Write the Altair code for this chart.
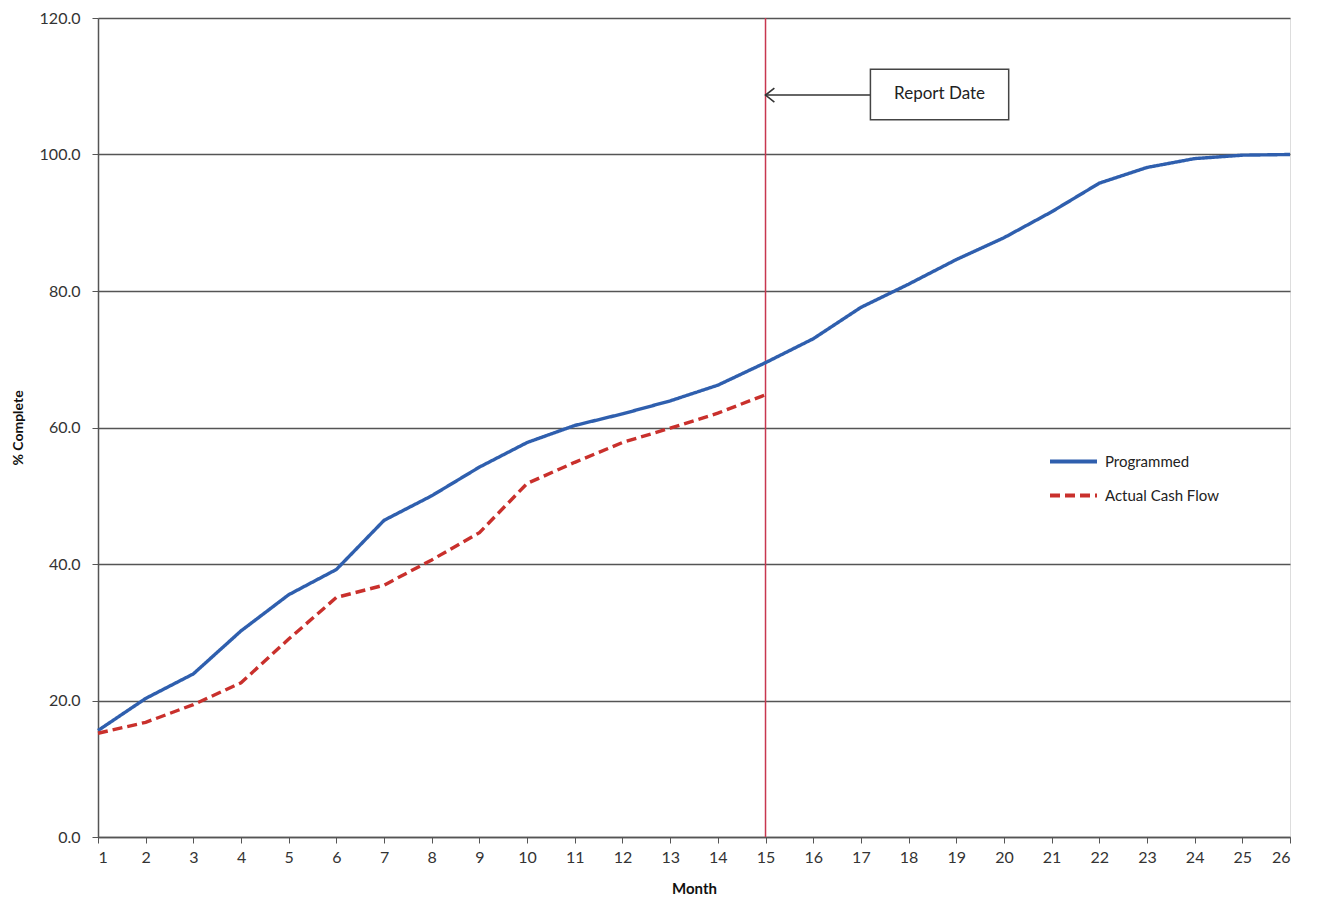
import altair as alt
import pandas as pd

# ---- data ----
months = list(range(1, 27))
programmed = [15.6, 20.3, 23.9, 30.2, 35.5, 39.2, 46.4, 50.0, 54.2, 57.8,
              60.3, 62.0, 63.9, 66.2, 69.5, 73.0, 77.6, 81.0, 84.6, 87.8,
              91.6, 95.8, 98.1, 99.4, 99.9, 100.0]
actual = [15.2, 16.8, 19.4, 22.6, 29.0, 35.1, 36.9, 40.6, 44.6, 51.8,
          54.9, 57.8, 59.9, 62.1, 64.8]
series_names = ["Programmed", "Actual Cash Flow"]
series_colors = ["#2f5fae", "#c9302c"]

report_month = [15]
box_x = [17.2]
box_x2 = [20.1]
box_y = [105.1]
box_y2 = [112.5]
arrow_y = [108.7]
box_label = ["Report Date"]

rows = []
for m, v in zip(months, programmed):
    rows.append({"Month": m, "Value": v, "Series": "Programmed"})
for m, v in zip(months[:len(actual)], actual):
    rows.append({"Month": m, "Value": v, "Series": "Actual Cash Flow"})
df = pd.DataFrame(rows)

ann = pd.DataFrame({
    "rx": report_month, "bx": box_x, "bx2": box_x2,
    "by": box_y, "by2": box_y2, "ay": arrow_y,
    "cx": [(a + b) / 2 for a, b in zip(box_x, box_x2)],
    "cy": [(a + b) / 2 for a, b in zip(box_y, box_y2)],
    "label": box_label,
})

W, H = 1192, 819
FONT = "Lato"

xscale = alt.Scale(domain=[1, 26], nice=False, zero=False)
yscale = alt.Scale(domain=[0, 120], nice=False)

x_axis = alt.Axis(values=months, format="d", title="Month", grid=False,
                  labelFontSize=16, labelColor="#333", labelPadding=6,
                  tickSize=6, tickColor="#555", domainColor="#555", domainWidth=1.5,
                  titleFontSize=15, titleFontWeight="bold", titleColor="#111",
                  titlePadding=16)
y_axis = alt.Axis(values=[0, 20, 40, 60, 80, 100, 120], format=".1f",
                  title="% Complete", grid=True, gridColor="#555", gridWidth=1.3,
                  labelFontSize=16, labelColor="#333", labelPadding=12,
                  tickSize=6, tickColor="#555", domainColor="#555", domainWidth=1.5,
                  titleFontSize=14, titleFontWeight="bold", titleColor="#111",
                  titlePadding=14)

legend = alt.Legend(title=None, orient="none", legendX=950, legendY=418,
                    symbolType="stroke", symbolSize=2209,
                    symbolStrokeWidth=3.8, labelFontSize=15,
                    labelColor="#222", rowPadding=-12, padding=0,
                    labelOffset=6)

lines = alt.Chart(df).mark_line(strokeWidth=3.4).encode(
    x=alt.X("Month:Q", scale=xscale, axis=x_axis),
    y=alt.Y("Value:Q", scale=yscale, axis=y_axis),
    color=alt.Color("Series:N",
                    scale=alt.Scale(domain=series_names, range=series_colors),
                    legend=legend),
    strokeDash=alt.StrokeDash("Series:N",
                              scale=alt.Scale(domain=series_names, range=[[1, 0], [10, 5]]),
                              legend=legend),
    order=alt.Order("Month:Q"),
)

vline = alt.Chart(ann).mark_rule(color="#c8374f", strokeWidth=1.5).encode(
    x=alt.X("rx:Q", scale=xscale),
)

arrow_line = alt.Chart(ann).mark_rule(color="#333", strokeWidth=1.5).encode(
    x=alt.X("rx:Q", scale=xscale), x2="bx:Q",
    y=alt.Y("ay:Q", scale=yscale),
)

arrow_head = alt.Chart(ann).mark_point(
    shape="M1.4,-1.1 L0,0 L1.4,1.1", filled=False, color="#333", strokeWidth=1.6,
    size=160, opacity=1,
).encode(
    x=alt.X("rx:Q", scale=xscale),
    y=alt.Y("ay:Q", scale=yscale),
)

box = alt.Chart(ann).mark_rect(fill="white", stroke="#444", strokeWidth=1.5).encode(
    x=alt.X("bx:Q", scale=xscale), x2="bx2:Q",
    y=alt.Y("by:Q", scale=yscale), y2="by2:Q",
)

box_text = alt.Chart(ann).mark_text(fontSize=17, color="#222", font=FONT).encode(
    x=alt.X("cx:Q", scale=xscale),
    y=alt.Y("cy:Q", scale=yscale),
    text="label:N",
)

border = alt.Chart(ann).mark_rule(color="#888", strokeWidth=1).encode(
    x=alt.value(W + 22), y=alt.value(-18), y2=alt.value(H + 70),
)

chart = alt.layer(vline, lines, arrow_line, arrow_head, box, box_text, border).properties(
    width=W, height=H,
    autosize=alt.AutoSizeParams(type="none"),
    padding={"left": 90, "top": 10, "right": 20, "bottom": 60},
).configure_view(stroke=None).configure(font=FONT, background="white")

chart.save("out.html", embed_options={"renderer": "svg", "actions": False})
